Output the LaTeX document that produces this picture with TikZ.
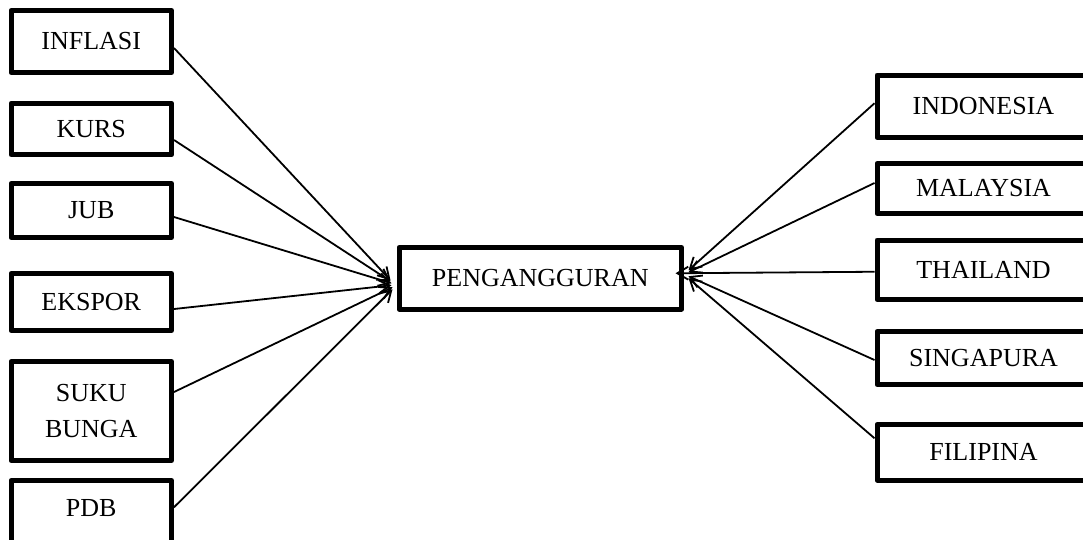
\documentclass[tikz,border=0pt]{standalone}
\usepackage{fontspec}
\setmainfont{Liberation Serif}
\usetikzlibrary{arrows.meta,calc}
\begin{document}
\begin{tikzpicture}[x=1pt,y=-1pt,
  box/.style={draw, rectangle, line width=5pt, line join=round, inner sep=0pt,
    font=\fontsize{26}{36}\selectfont, align=center},
  lbox/.style={box, minimum width=160.5pt},
  rbox/.style={box, minimum width=213pt},
  conn/.style={line width=1.8pt, -{Straight Barb[length=11pt,width=13pt]}}]
\useasboundingbox (0,0) rectangle (1083,539);
\clip (0,0) rectangle (1083,539);
% left boxes
\node[lbox, minimum height=62pt]   (inflasi) at (91.25,41.5)  {INFLASI};
\node[lbox, minimum height=51.5pt] (kurs)    at (91.25,129)   {KURS};
\node[lbox, minimum height=54pt]   (jub)     at (91.25,210.5) {JUB};
\node[lbox, minimum height=57pt]   (ekspor)  at (91.25,302)   {EKSPOR};
\node[lbox, minimum height=99pt]   (suku)    at (91.25,411)   {SUKU\\BUNGA};
\node[lbox, minimum height=69.5pt, text depth=14.5pt] (pdb) at (91.25,515.25) {PDB};
% centre
\node[box, minimum width=282.5pt, minimum height=61.5pt] (pen) at (540.25,278.25) {PENGANGGURAN};
% right boxes
\node[rbox, minimum height=62.5pt] (indonesia) at (983.5,106.25) {INDONESIA};
\node[rbox, minimum height=50pt]   (malaysia)  at (983.5,188.5)  {MALAYSIA};
\node[rbox, minimum height=59.5pt] (thailand)  at (983.5,269.75) {THAILAND};
\node[rbox, minimum height=53pt]   (singapura) at (983.5,358)    {SINGAPURA};
\node[rbox, minimum height=55.5pt] (filipina)  at (983.5,452.25) {FILIPINA};
% left connectors
\draw[conn] ($(inflasi.east)+(0,6.5)$) -- ($(pen.west)+(-6,2)$);
\draw[conn] ($(kurs.east)+(0,11)$)     -- ($(pen.west)+(-6,3)$);
\draw[conn] ($(jub.east)+(0,6.5)$)     -- ($(pen.west)+(-5,5)$);
\draw[conn] ($(ekspor.east)+(0,7)$)    -- ($(pen.west)+(-5,7)$);
\draw[conn] ($(suku.east)+(0,-19)$)    -- ($(pen.west)+(-4,9)$);
\draw[conn] ($(pdb.east)+(0,-8)$)      -- ($(pen.west)+(-4,11)$);
% right connectors
\draw[conn] ($(indonesia.west)+(0,-3)$)  -- ($(pen.east)+(4.5,-8)$);
\draw[conn] ($(malaysia.west)+(0,-5.5)$) -- ($(pen.east)+(4.5,-6)$);
\draw[conn] ($(thailand.west)+(0,2)$)    -- ($(pen.east)+(-8.5,-5)$);
\draw[conn] ($(singapura.west)+(0,2)$)   -- ($(pen.east)+(4.5,-2)$);
\draw[conn] ($(filipina.west)+(0,-14)$)  -- ($(pen.east)+(4.5,0)$);
\end{tikzpicture}
\end{document}
